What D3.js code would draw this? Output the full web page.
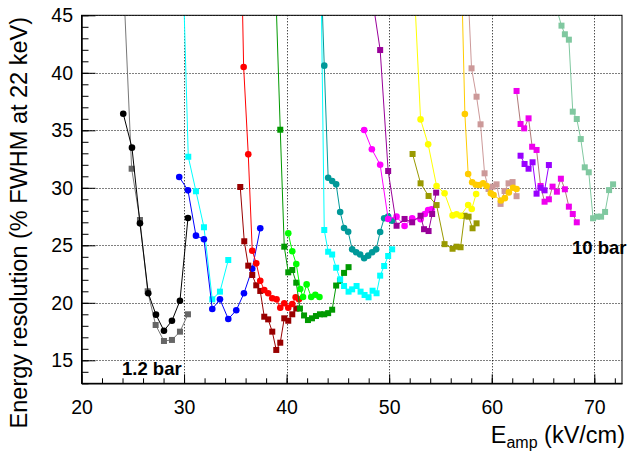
<!DOCTYPE html>
<html lang="en">
<head>
    <meta charset="UTF-8">
    <title>Energy resolution</title>
    <script src="https://d3js.org/d3.v7.min.js"></script>
    <style>
        body { margin: 0; background: #fff; }
        svg { font-family: "Liberation Sans", Arial, sans-serif; }
        .grid line { stroke: #000; stroke-dasharray: 1,2; stroke-width: 1; }
        .axis path { stroke: #000; }
        .axis line { stroke: #000; }
        .axis text { font-size: 19.5px; fill: #000; }
    </style>
</head>
<body>
    <svg width="628" height="453"></svg>
    <script>
        // points, [E_amp, resolution]
        const blackCircles = [[24.07,36.44],[24.92,33.49],[25.70,26.91],[26.51,20.83],[27.26,18.97],[28.04,17.57],[28.82,18.44],[29.60,20.18],[30.38,27.37]];
        const graySquares = [[24.0,49.9],[24.89,31.66],[25.70,27.2],[26.45,21.0],[27.23,18.07],[28.04,16.68],[28.82,16.77],[29.60,17.49],[30.38,19.0]];
        const cyanSquaresA = [[29.8,52],[30.41,32.7],[31.16,29.7],[31.94,26.57],[32.75,20.3],[33.5,20.97],[34.31,23.72]];
        const blueCircles = [[29.53,30.94],[30.38,29.78],[31.16,25.84],[31.94,25.52],[32.75,19.46],[33.5,20.3],[34.31,18.59],[35.09,19.35],[35.84,20.83],[36.65,22.96],[37.43,26.48]];
        const redCircles = [[35.6,50],[35.81,40.5],[36.26,32.91],[36.65,24.53],[37.04,23.43],[37.43,21.92],[37.82,21.11],[38.2,20.83],[38.6,20.39],[39.02,20.3],[39.38,19.57],[39.77,19.96],[40.16,19.57],[40.55,19.9],[40.88,20.48],[41.2,20.3]];
        const maroonSquares = [[35.48,30.07],[35.87,25.35],[36.26,23.23],[36.65,22.42],[37.04,21.52],[37.43,21.03],[37.82,18.79],[38.2,18.56],[38.6,17.49],[38.99,15.9],[39.38,16.53],[39.77,18.65],[40.16,18.44],[40.55,19.0],[40.94,19.5]];
        const greenSquares = [[38.85,49.7],[39.38,35.05],[39.77,24.88],[40.16,22.65],[40.55,22.85],[40.94,21.75],[41.3,19.5],[41.7,18.9],[42.08,18.5],[42.47,18.65],[42.86,18.85],[43.25,19.0],[43.67,19.0],[44.05,19.1],[44.44,19.4],[44.83,21.5],[45.2,21.9],[45.6,22.6],[46.04,23.1]];
        const limeCircles = [[40.16,26.04],[40.55,24.48],[40.94,23.37],[41.33,21.2],[41.6,20.5],[41.95,21.6],[42.4,20.5],[42.8,20.7],[43.2,20.5]];
        const tealCircles = [[43.3,50.2],[43.67,40.62],[44.05,30.88],[44.44,30.59],[44.83,30.3],[45.22,27.9],[45.6,26.5],[46.0,26.18],[46.39,24.65],[46.78,24.4],[47.17,24.2],[47.56,23.87],[47.95,24.1],[48.34,24.4],[48.73,24.65],[49.12,26.16],[49.51,27.35],[49.9,27.49],[50.29,27.14]];
        const cyanSquaresB = [[43.3,52],[43.67,26.33],[44.05,24.44],[44.44,24.2],[44.83,23.05],[45.22,22.04],[45.6,21.46],[46.04,20.97],[46.39,21.17],[46.82,21.46],[47.21,20.97],[47.6,20.68],[47.99,20.48],[48.38,21.05],[48.77,20.83],[49.12,22.36],[49.51,23.2],[49.9,24.07],[50.29,24.65]];
        const magentaCircles = [[47.56,35.03],[48.31,33.35],[49.12,32.0],[49.9,27.29],[50.72,27.49],[51.5,26.68],[52.24,27.35],[53.06,27.26],[53.48,27.72],[53.8,28.07],[54.13,28.13]];
        const purpleSquares = [[48.34,46.6],[49.12,41.98],[49.9,31.46],[50.72,26.7],[51.5,27.29],[52.24,27.0],[53.06,27.57],[53.4,26.4],[53.84,26.24],[54.19,27.72],[54.58,29.58]];
        const oliveSquares = [[52.28,32.94],[53.06,30.39],[53.84,29.29],[54.62,28.5],[55.4,25.1],[56.18,24.7],[56.57,24.88],[56.96,24.83],[57.35,27.57],[57.74,27.49],[58.13,26.48],[58.52,26.91]];
        const yellowCircles = [[52.28,50.5],[53.06,35.95],[53.8,33.78],[54.62,30.16],[55.4,29.52],[56.18,27.6],[56.57,27.7],[56.96,27.57],[57.7,28.5],[58.05,28.16],[58.48,29.46]];
        const goldCircles = [[57.0,50.5],[57.38,36.42],[57.7,31.2],[58.09,30.48],[58.45,30.27],[58.8,30.25],[59.16,30.4],[59.5,30.16],[59.91,29.52],[60.18,29.37],[60.89,28.9],[61.28,29.1],[61.67,29.6],[62.08,30.0],[62.42,29.9]];
        const rosySquares = [[57.6,49],[58.03,40.39],[58.52,37.92],[58.91,35.52],[59.3,31.26],[59.69,29.9],[60.08,30.1],[60.47,30.3],[60.86,28.6],[61.25,29.72],[61.64,30.39],[62.03,30.5],[62.42,29.27]];
        const magentaSquares = [[62.42,38.42],[62.81,35.55],[63.16,35.17],[63.59,36.04],[63.94,33.57],[64.37,33.29],[64.76,30.16],[65.15,28.79],[65.57,29.0],[65.93,30.1],[66.35,29.66],[66.74,30.79],[67.13,29.87],[67.52,28.36],[67.9,27.72],[68.29,27.0]];
        const violetSquares = [[62.81,32.79],[63.2,32.07],[63.59,31.66],[63.98,32.22],[64.37,29.49],[64.76,30.0],[65.15,29.78],[65.57,31.98]];
        const seaGreenSquares = [[66.41,45.3],[66.8,44.1],[67.13,43.35],[67.52,42.88],[67.9,36.62],[68.29,35.98],[68.68,34.24],[69.07,31.78],[69.46,31.35],[69.88,27.35],[70.27,27.49],[70.66,27.49],[71.05,27.9],[71.44,29.8],[71.83,30.3]];

        const xMajor = [20, 30, 40, 50, 60, 70];
        const yMajor = [15, 20, 25, 30, 35, 40, 45];

        // draw order + look of each graph
        const series = [
            {data: graySquares, line: "#777", fill: "#666", shape: "square"},
            {data: blackCircles, line: "#000", fill: "#000", shape: "circle"},
            {data: cyanSquaresA, line: "#00ffff", fill: "#00ffff", shape: "square"},
            {data: blueCircles, line: "#0000ff", fill: "#0000ff", shape: "circle"},
            {data: maroonSquares, line: "#990000", fill: "#990000", shape: "square"},
            {data: redCircles, line: "#ff0000", fill: "#ff0000", shape: "circle"},
            {data: greenSquares, line: "#009900", fill: "#009900", shape: "square"},
            {data: limeCircles, line: "#00ff00", fill: "#00ff00", shape: "circle"},
            {data: cyanSquaresB, line: "#00ffff", fill: "#00ffff", shape: "square"},
            {data: tealCircles, line: "#009999", fill: "#009999", shape: "circle"},
            {data: magentaCircles, line: "#ff00ff", fill: "#ff00ff", shape: "circle"},
            {data: purpleSquares, line: "#990099", fill: "#990099", shape: "square"},
            {data: oliveSquares, line: "#999900", fill: "#999900", shape: "square"},
            {data: yellowCircles, line: "#ffff00", fill: "#ffff00", shape: "circle"},
            {data: rosySquares, line: "#cc9999", fill: "#cc9999", shape: "square"},
            {data: goldCircles, line: "#ffcc00", fill: "#ffcc00", shape: "circle"},
            {data: magentaSquares, line: "#b07878", fill: "#ee00ee", shape: "square"},
            {data: violetSquares, line: "#9900ff", fill: "#9900ff", shape: "square"},
            {data: seaGreenSquares, line: "#80c8a0", fill: "#80c8a0", shape: "square"}
        ];

        const svg = d3.select("svg");
        const fLeft = 81.5, fRight = 622, fTop = 15.3, fBottom = 383.3;

        const x = d3.scaleLinear().domain([20, 72.7]).range([fLeft, fRight]);
        const y = d3.scaleLinear().domain([13, 45]).range([fBottom, fTop]);

        svg.append("defs").append("clipPath").attr("id", "frame")
            .append("rect")
            .attr("x", fLeft).attr("y", fTop)
            .attr("width", fRight - fLeft).attr("height", fBottom - fTop);

        // dotted grid
        const grid = svg.append("g").attr("class", "grid");
        grid.selectAll(".gx").data(xMajor.filter(d => d > 20)).join("line")
            .attr("x1", d => Math.round(x(d)) + 0.5).attr("x2", d => Math.round(x(d)) + 0.5)
            .attr("y1", fTop).attr("y2", fBottom);
        grid.selectAll(".gy").data(yMajor).join("line")
            .attr("x1", fLeft).attr("x2", fRight)
            .attr("y1", d => Math.round(y(d)) + 0.5).attr("y2", d => Math.round(y(d)) + 0.5);

        // graphs
        const plot = svg.append("g").attr("clip-path", "url(#frame)");
        const line = d3.line().x(d => x(d[0])).y(d => y(d[1]));

        series.forEach(s => {
            const g = plot.append("g");
            g.append("path")
                .datum(s.data)
                .attr("d", line)
                .attr("fill", "none")
                .attr("stroke", s.line)
                .attr("stroke-width", 1);
            if (s.shape === "circle") {
                g.selectAll("circle").data(s.data).join("circle")
                    .attr("cx", d => x(d[0]))
                    .attr("cy", d => y(d[1]))
                    .attr("r", 3.3)
                    .attr("fill", s.fill);
            } else {
                g.selectAll("rect").data(s.data).join("rect")
                    .attr("x", d => x(d[0]) - 3)
                    .attr("y", d => y(d[1]) - 3)
                    .attr("width", 6)
                    .attr("height", 6)
                    .attr("fill", s.fill);
            }
        });

        // axes, ticks pointing inward
        svg.append("g").attr("class", "axis")
            .attr("transform", `translate(0,${fBottom})`)
            .call(d3.axisBottom(x).tickValues(d3.range(22, 73, 2)).tickSize(-5).tickFormat("").tickSizeOuter(0));
        svg.append("g").attr("class", "axis")
            .attr("transform", `translate(0,${fBottom})`)
            .call(d3.axisBottom(x).tickValues(xMajor).tickSize(-9).tickPadding(17).tickSizeOuter(0));
        svg.append("g").attr("class", "axis")
            .attr("transform", `translate(${fLeft},0)`)
            .call(d3.axisLeft(y).tickValues(d3.range(13, 46, 1)).tickSize(-7).tickFormat("").tickSizeOuter(0));
        svg.append("g").attr("class", "axis")
            .attr("transform", `translate(${fLeft},0)`)
            .call(d3.axisLeft(y).tickValues(yMajor).tickSize(-14).tickPadding(8.5).tickSizeOuter(0));

        svg.append("rect")
            .attr("x", fLeft).attr("y", fTop)
            .attr("width", fRight - fLeft).attr("height", fBottom - fTop)
            .attr("fill", "none").attr("stroke", "#000").attr("stroke-width", 1);

        // labels
        svg.append("text")
            .attr("x", 122).attr("y", 375)
            .attr("font-size", 18.5).attr("font-weight", "bold")
            .text("1.2 bar");
        svg.append("text")
            .attr("x", 572).attr("y", 254)
            .attr("font-size", 18.5).attr("font-weight", "bold")
            .text("10 bar");

        const xt = svg.append("text")
            .attr("x", 625).attr("y", 443)
            .attr("text-anchor", "end")
            .attr("font-size", 23.5);
        xt.append("tspan").text("E");
        xt.append("tspan").attr("font-size", 16).attr("dy", 5).text("amp");
        xt.append("tspan").attr("dy", -5).text(" (kV/cm)");

        svg.append("text")
            .attr("transform", "translate(27,17) rotate(-90)")
            .attr("text-anchor", "end")
            .attr("font-size", 23.5)
            .text("Energy resolution (% FWHM at 22 keV)");
    </script>
</body>
</html>
